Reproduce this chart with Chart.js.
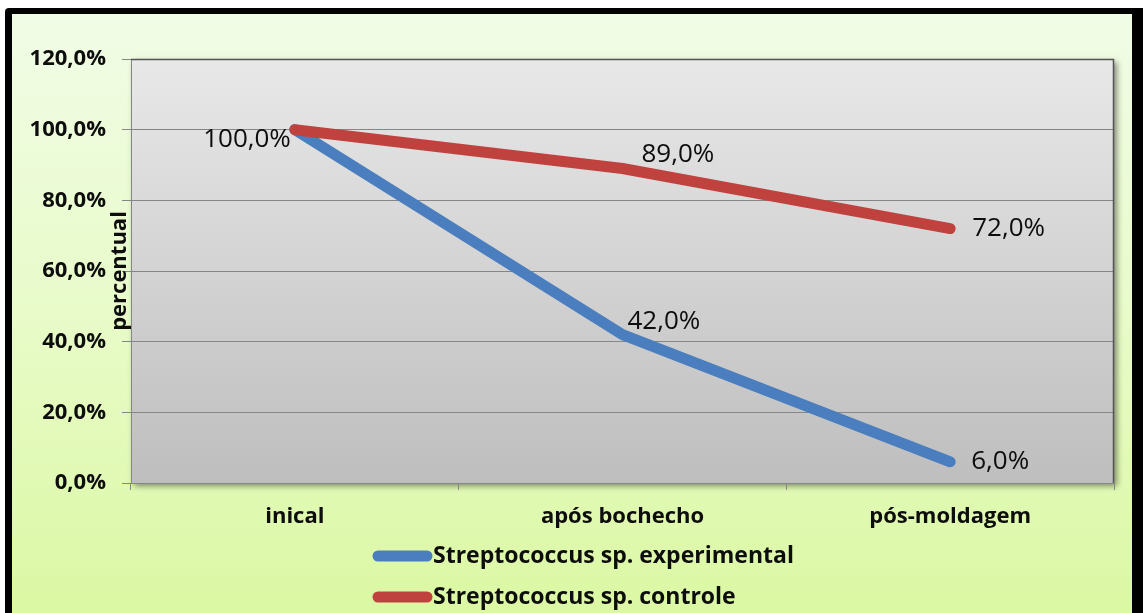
<!DOCTYPE html>
<html>
<head>
<meta charset="utf-8">
<script src="https://cdn.jsdelivr.net/npm/chart.js@4.4.1/dist/chart.umd.min.js"></script>
<style>
  html, body { margin: 0; padding: 0; background: #ffffff; }
  #wrap { width: 1143px; height: 613px; }
</style>
</head>
<body>
<div id="wrap"><canvas id="c" width="1143" height="613"></canvas></div>
<script>
// Categories and series (percent of initial count)
const categories = ['inical', 'após bochecho', 'pós-moldagem'];
const experimental = [100, 42, 6];
const controle = [100, 89, 72];
const seriesNames = ['Streptococcus sp. experimental', 'Streptococcus sp. controle'];
const yTickLabels = ['0,0%', '20,0%', '40,0%', '60,0%', '80,0%', '100,0%', '120,0%'];
const yTitle = 'percentual';

const FONT = '"Open Sans", "Liberation Sans", sans-serif';
const BLUE = '#4a7ebf';
const RED = '#c0423f';
const GRID = '#868686';

const fmt = v => v.toFixed(1).replace('.', ',') + '%';

// Placement of each value label relative to its point (null = not drawn)
const labelPlacement = [
  [null, { align: 'left', dx: 5, dy: -13 }, { align: 'left', dx: 21, dy: 0 }],
  [{ align: 'right', dx: -4, dy: 10 }, { align: 'left', dx: 19, dy: -14 }, { align: 'left', dx: 22, dy: 0 }]
];

const frame = {
  id: 'frame',
  beforeDraw(chart) {
    const ctx = chart.ctx;
    const W = chart.width, H = chart.height;
    const a = chart.chartArea;
    ctx.save();
    ctx.fillStyle = '#ffffff';
    ctx.fillRect(0, 0, W, H);
    // black outer frame
    ctx.fillStyle = '#000000';
    ctx.beginPath();
    ctx.roundRect(5, 8, W + 10, H + 10, 4);
    ctx.fill();
    // pale green panel
    const g = ctx.createLinearGradient(0, 14, 0, H);
    g.addColorStop(0, '#f1fce6');
    g.addColorStop(0.5, '#e8fbc9');
    g.addColorStop(1, '#dbf8a3');
    ctx.fillStyle = g;
    ctx.fillRect(12, 14, 1120, H);
    // plot area with soft shadow
    const pg = ctx.createLinearGradient(0, a.top, 0, a.bottom);
    pg.addColorStop(0, '#e8e8e8');
    pg.addColorStop(1, '#bebebe');
    ctx.shadowColor = 'rgba(0,0,0,0.45)';
    ctx.shadowBlur = 6;
    ctx.shadowOffsetX = 3;
    ctx.shadowOffsetY = 3;
    ctx.fillStyle = pg;
    ctx.fillRect(a.left, a.top, a.right - a.left, a.bottom - a.top);
    ctx.restore();
  },
  beforeDatasetsDraw(chart) {
    const ctx = chart.ctx;
    const a = chart.chartArea;
    ctx.save();
    ctx.strokeStyle = '#555555';
    ctx.lineWidth = 1.5;
    ctx.beginPath();
    ctx.moveTo(a.left, a.top + 0.5);
    ctx.lineTo(a.right - 0.5, a.top + 0.5);
    ctx.lineTo(a.right - 0.5, a.bottom);
    ctx.stroke();
    ctx.restore();
  },
  afterDraw(chart) {
    const ctx = chart.ctx;
    const a = chart.chartArea;
    ctx.save();
    // value labels
    ctx.fillStyle = '#0d0d0d';
    ctx.font = '26px ' + FONT;
    ctx.textBaseline = 'middle';
    chart.data.datasets.forEach((ds, i) => {
      const meta = chart.getDatasetMeta(i);
      meta.data.forEach((pt, j) => {
        const p = labelPlacement[i][j];
        if (!p) return;
        ctx.textAlign = p.align;
        ctx.fillText(fmt(ds.data[j]), pt.x + p.dx, pt.y + p.dy);
      });
    });
    // y axis title
    ctx.save();
    ctx.translate(a.left - 11, (a.top + a.bottom) / 2);
    ctx.rotate(-Math.PI / 2);
    ctx.textAlign = 'center';
    ctx.textBaseline = 'middle';
    ctx.font = 'bold 22px ' + FONT;
    ctx.fillText(yTitle, 0, 0);
    ctx.restore();
    // legend
    ctx.font = 'bold 23px ' + FONT;
    ctx.textAlign = 'left';
    ctx.textBaseline = 'middle';
    ctx.lineCap = 'round';
    ctx.lineWidth = 11;
    chart.data.datasets.forEach((ds, i) => {
      const y = 556 + i * 41;
      ctx.strokeStyle = ds.borderColor;
      ctx.beginPath();
      ctx.moveTo(378, y);
      ctx.lineTo(427, y);
      ctx.stroke();
      ctx.fillStyle = '#0d0d0d';
      ctx.fillText(ds.label, 433, y);
    });
    ctx.restore();
  }
};

new Chart(document.getElementById('c'), {
  type: 'line',
  data: {
    labels: categories,
    datasets: [
      { label: seriesNames[0], data: experimental, borderColor: BLUE, backgroundColor: BLUE, order: 1 },
      { label: seriesNames[1], data: controle, borderColor: RED, backgroundColor: RED, order: 0 }
    ]
  },
  options: {
    responsive: false,
    animation: false,
    devicePixelRatio: 1,
    layout: { padding: { left: 0, top: 59, right: 29, bottom: 0 } },
    elements: {
      line: { borderWidth: 11, tension: 0, borderCapStyle: 'round', borderJoinStyle: 'round', fill: false },
      point: { radius: 0, hoverRadius: 0 }
    },
    plugins: { legend: { display: false }, tooltip: { enabled: false } },
    scales: {
      x: {
        type: 'category',
        offset: true,
        grid: { offset: true, drawOnChartArea: false, drawTicks: true, tickLength: 7, color: GRID },
        border: { display: true, color: GRID, width: 1 },
        ticks: { padding: 14, color: '#0d0d0d', font: { family: FONT, size: 22, weight: 'bold' }, maxRotation: 0 },
        afterFit: s => { s.height = 130; }
      },
      y: {
        min: 0,
        max: 120,
        grid: { color: GRID, tickLength: 9, lineWidth: 1 },
        border: { display: true, color: GRID, width: 1 },
        ticks: {
          stepSize: 20,
          padding: 16,
          color: '#0d0d0d',
          font: { family: FONT, size: 22, weight: 'bold' },
          callback: (v, i) => yTickLabels[i]
        },
        afterFit: s => { s.width = 131; }
      }
    }
  },
  plugins: [frame]
});
</script>
</body>
</html>
